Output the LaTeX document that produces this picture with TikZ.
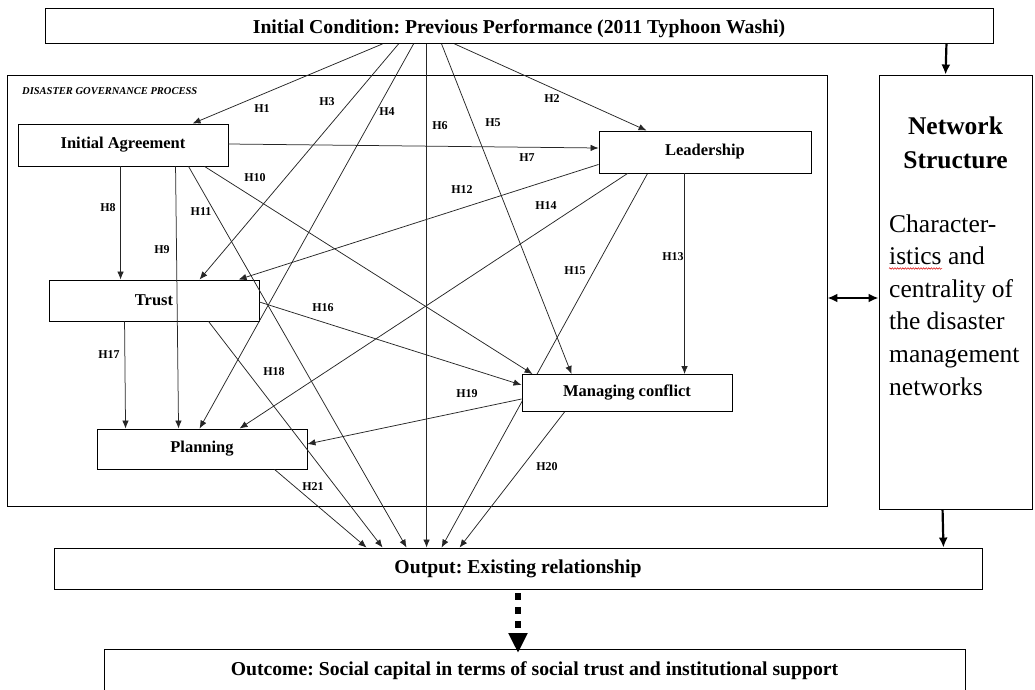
\documentclass[tikz,border=0pt]{standalone}
\usepackage{fontspec}
\setmainfont{Liberation Serif}
\usetikzlibrary{arrows.meta,decorations.pathmorphing}
\pgfdeclarelayer{back}
\pgfsetlayers{back,main}
\frenchspacing

\begin{document}
\begin{tikzpicture}[x=1pt,y=-1pt,
  box/.style={draw, line width=0.9pt, inner sep=0pt, font=\fontsize{16.5}{18}\selectfont\bfseries},
  banner/.style={draw, line width=0.9pt, inner sep=0pt, font=\fontsize{19.7}{22}\selectfont\bfseries},
  frame/.style={draw, line width=0.9pt, inner sep=0pt},
  link/.style={line width=0.75pt, draw=black!85, -{Latex[length=8pt,width=6.5pt]}},
  hyp/.style={font=\fontsize{12}{13}\selectfont\bfseries, inner sep=0pt},
  heavy/.style={line width=2.2pt},
]
\clip (0,0) rectangle (1035,690);

% ---------- boxes ----------
\node[banner, anchor=north, text height=25.5pt, text depth=9.5pt, minimum width=948pt] (init) at (519,8)
  {Initial Condition: Previous Performance (2011 Typhoon Washi)};

\node[frame, minimum width=820pt, minimum height=431pt] (gov) at (417,290.5) {};
\node[anchor=west, inner sep=0pt, font=\fontsize{10.5}{12}\selectfont\bfseries\itshape]
  (govlabel) at (22,91) {DISASTER GOVERNANCE PROCESS};

\node[frame, minimum width=153pt, minimum height=434pt] (net) at (955.5,292) {};
\node[anchor=base, inner sep=0pt, font=\fontsize{25.5}{33}\selectfont\bfseries] (nettitle) at (955.5,135)
  {\vtop{\hbox to 0pt{\hss Network\hss}\hbox to 0pt{\hss Structure\hss}}};
\node[anchor=base west, inner sep=0pt, font=\fontsize{25.5}{32.6}\selectfont] (nettext) at (889,232)
  {\vtop{\hbox{Character-}\hbox{istics and}\hbox{centrality of}\hbox{the disaster}\hbox{management}\hbox{networks}}};
% spelling marker under "istics"
\draw[red!85!black, line width=0.5pt, decorate, decoration={snake, amplitude=0.8pt, segment length=2.6pt}]
  (889,268.5) -- (942,268.5);

\node[box, minimum width=210pt, minimum height=42pt] (ia) at (123,145) {Initial Agreement};
\node[box, minimum width=212pt, minimum height=42pt] (lead) at (705,152) {Leadership};
\node[box, minimum width=210pt, minimum height=41pt] (trust) at (154,300.5) {Trust};
\node[box, fill=white, minimum width=210pt, minimum height=37pt] (mc) at (627,393) {Managing conflict};
\node[box, minimum width=210pt, minimum height=40pt] (plan) at (202,449) {Planning};

\node[banner, minimum width=928pt, minimum height=41pt] (out) at (518,568.5) {Output: Existing relationship};
\node[banner, anchor=north, text height=26.5pt, text depth=30pt, minimum width=861pt] (res) at (534.5,649)
  {Outcome: Social capital in terms of social trust and institutional support};

% ---------- hypotheses ----------
% from the initial condition
\draw[link] ([xshift=338pt]init.south west) -- ([xshift=175pt]ia.north west);
\draw[link] ([xshift=410pt]init.south west) -- ([xshift=48pt]lead.north west);
\draw[link] ([xshift=354pt]init.south west) -- ([xshift=151pt]trust.north west);
\draw[link] ([xshift=369pt]init.south west) -- ([xshift=103pt]plan.north west);
\draw[link] ([xshift=397pt]init.south west) -- ([xshift=50pt]mc.north west);
\draw[link] ([xshift=382pt]init.south west) -- ([xshift=373pt]out.north west);
% from initial agreement
\draw[link] ([yshift=1pt]ia.east) -- ([yshift=4pt]lead.west);
\draw[link] ([xshift=103pt]ia.south west) -- ([xshift=72pt]trust.north west);
\draw[link] ([xshift=158pt]ia.south west) -- ([xshift=82pt]plan.north west);
\draw[link] ([xshift=187pt]ia.south west) -- ([xshift=11pt]mc.north west);
\draw[link] ([xshift=171pt]ia.south west) -- ([xshift=353pt]out.north west);
% from leadership
\draw[link] ([yshift=9pt]lead.south west) -- ([xshift=190pt]trust.north west);
\draw[link] ([xshift=86pt]lead.south west) -- ([xshift=163pt]mc.north west);
\draw[link] ([xshift=29pt]lead.south west) -- ([xshift=143pt]plan.north west);
\begin{pgfonlayer}{back}
\draw[link] ([xshift=49pt]lead.south west) -- ([xshift=388pt]out.north west);
\end{pgfonlayer}
% from trust
\draw[link] ([yshift=-1.5pt]trust.east) -- ([yshift=8pt]mc.west);
\draw[link] ([xshift=76pt]trust.south west) -- ([xshift=29pt]plan.north west);
\draw[link] ([xshift=160pt]trust.south west) -- ([xshift=329pt]out.north west);
% from managing conflict and planning
\draw[link] ([yshift=-6pt]mc.west) -- ([yshift=5pt]plan.east);
\draw[link] ([xshift=43pt]mc.south west) -- ([xshift=406pt]out.north west);
\draw[link] ([xshift=178pt]plan.south west) -- ([xshift=313pt]out.north west);

\node[hyp] (h1) at (262,109) {H1};
\node[hyp] (h2) at (552,99) {H2};
\node[hyp] (h3) at (327,102) {H3};
\node[hyp] (h4) at (387,112) {H4};
\node[hyp] (h5) at (493,123) {H5};
\node[hyp] (h6) at (440,126) {H6};
\node[hyp] (h7) at (527,158) {H7};
\node[hyp] (h8) at (108,208) {H8};
\node[hyp] (h9) at (162,250) {H9};
\node[hyp] (h10) at (255,178) {H10};
\node[hyp] (h11) at (201,212) {H11};
\node[hyp] (h12) at (462,190) {H12};
\node[hyp] (h13) at (673,257) {H13};
\node[hyp] (h14) at (546,206) {H14};
\node[hyp] (h15) at (575,271) {H15};
\node[hyp] (h16) at (323,308) {H16};
\node[hyp] (h17) at (109,355) {H17};
\node[hyp] (h18) at (274,372) {H18};
\node[hyp] (h19) at (467,394) {H19};
\node[hyp] (h20) at (547,467) {H20};
\node[hyp] (h21) at (313,487) {H21};

% ---------- network structure links ----------
\draw[heavy, -{Latex[length=10pt,width=9pt]}] ([xshift=-47pt]init.south east) -- ([xshift=67pt]net.north west);
\draw[heavy, -{Latex[length=10pt,width=9pt]}] ([xshift=64pt]net.south west) -- ([xshift=-39pt]out.north east);
\draw[heavy, {Latex[length=10pt,width=9pt]}-{Latex[length=10pt,width=9pt]}]
  ([yshift=-7.5pt]gov.east) -- ([yshift=-7.5pt]gov.east -| net.west);

% ---------- output to outcome ----------
\draw[line width=6pt, dash pattern=on 7pt off 7pt, shorten <=4pt, shorten >=-4pt,
      -{Triangle[length=20pt,width=18pt]}] (out.south) -- (out.south |- res.north);
\end{tikzpicture}
\end{document}
